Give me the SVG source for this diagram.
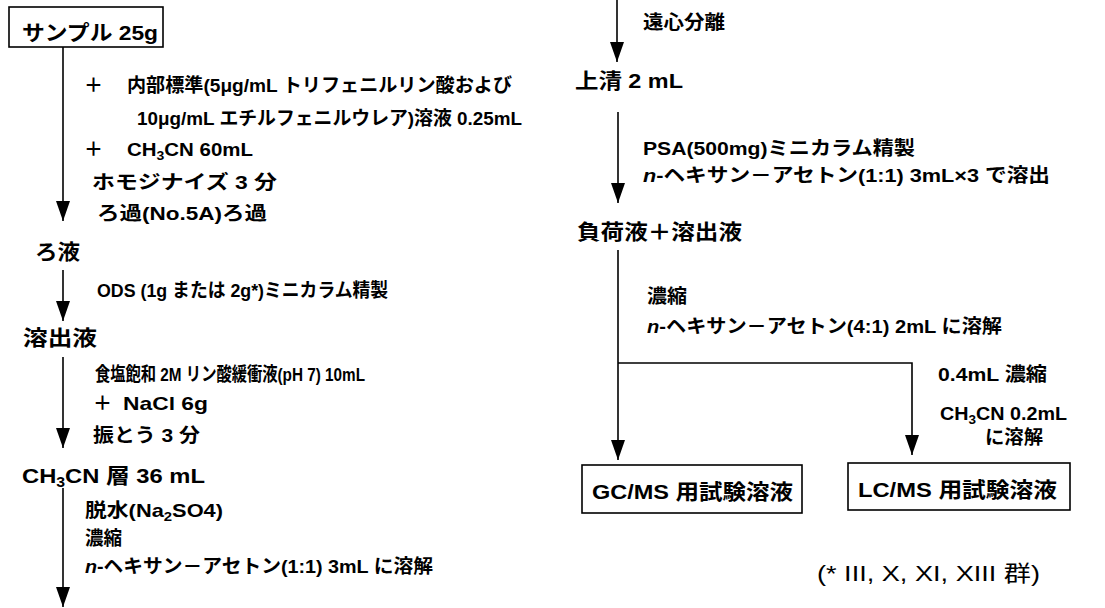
<svg xmlns="http://www.w3.org/2000/svg" width="1105" height="608" viewBox="0 0 1105 608">
<style>
text{font-family:"Liberation Sans","Noto Sans CJK JP",sans-serif;fill:#000;}
.b{font-size:19px;font-weight:bold;}
.h{font-size:21px;font-weight:bold;}
.f{font-size:22px;font-weight:normal;}
.box{fill:#fff;stroke:#000;stroke-width:1.6;}
.ln{fill:none;stroke:#000;stroke-width:1.6;}
</style>
<defs>
<marker id="ah" viewBox="0 0 20 14" refX="20" refY="7" markerWidth="20" markerHeight="14" markerUnits="userSpaceOnUse" orient="auto">
<path d="M0,0 L20,7 L0,14 z" fill="#000"/>
</marker>
</defs>
<rect width="1105" height="608" fill="#fff"/>

<g id="connectors">
<line class="ln" x1="63" y1="47" x2="63" y2="221" marker-end="url(#ah)"/>
<line class="ln" x1="63" y1="270" x2="63" y2="321" marker-end="url(#ah)"/>
<line class="ln" x1="63" y1="357" x2="63" y2="448" marker-end="url(#ah)"/>
<line class="ln" x1="63" y1="488" x2="63" y2="607" marker-end="url(#ah)"/>
<line class="ln" x1="617" y1="0" x2="617" y2="62" marker-end="url(#ah)"/>
<line class="ln" x1="618" y1="112" x2="618" y2="203" marker-end="url(#ah)"/>
<line class="ln" x1="618" y1="250" x2="618" y2="460" marker-end="url(#ah)"/>
<polyline class="ln" points="618,363 912,363 912,455" marker-end="url(#ah)"/>
</g>

<g id="n-sample">
<rect class="box" x="9" y="7" width="154" height="40"/>
<text class="h" x="22" y="40" textLength="136" lengthAdjust="spacingAndGlyphs">サンプル 25g</text>
</g>

<g id="n-step1">
<text class="b" x="84" y="92">＋</text>
<text class="b" x="127" y="92" textLength="385" lengthAdjust="spacingAndGlyphs">内部標準(5μg/mL トリフェニルリン酸および</text>
<text class="b" x="137" y="125" textLength="385" lengthAdjust="spacingAndGlyphs">10μg/mL エチルフェニルウレア)溶液  0.25mL</text>
<text class="b" x="84" y="156">＋</text>
<text class="b" x="127" y="156" textLength="126" lengthAdjust="spacingAndGlyphs">CH<tspan dy="4" font-size="13">3</tspan><tspan dy="-4">CN 60mL</tspan></text>
<text class="b" x="92" y="189" textLength="185" lengthAdjust="spacingAndGlyphs">ホモジナイズ  3 分</text>
<text class="b" x="97" y="220" textLength="170" lengthAdjust="spacingAndGlyphs">ろ過(No.5A)ろ過</text>
</g>

<g id="n-filtrate">
<text class="h" x="35" y="259" textLength="45" lengthAdjust="spacingAndGlyphs">ろ液</text>
</g>

<g id="n-step2">
<text class="b" x="97" y="297" textLength="291" lengthAdjust="spacingAndGlyphs">ODS (1g または 2g*)ミニカラム精製</text>
</g>

<g id="n-eluate">
<text class="h" x="23" y="345" textLength="74" lengthAdjust="spacingAndGlyphs">溶出液</text>
</g>

<g id="n-step3">
<text class="b" x="95" y="381" textLength="270" lengthAdjust="spacingAndGlyphs">食塩飽和 2M リン酸緩衝液(pH 7) 10mL</text>
<text class="b" x="93" y="410">＋</text>
<text class="b" x="123" y="410" textLength="85" lengthAdjust="spacingAndGlyphs">NaCl 6g</text>
<text class="b" x="93" y="442" textLength="107" lengthAdjust="spacingAndGlyphs">振とう 3 分</text>
</g>

<g id="n-layer">
<text class="h" x="22" y="483" textLength="183" lengthAdjust="spacingAndGlyphs">CH<tspan dy="4" font-size="14">3</tspan><tspan dy="-4">CN 層  36 mL</tspan></text>
</g>

<g id="n-step4">
<text class="b" x="85" y="517" textLength="138" lengthAdjust="spacingAndGlyphs">脱水(Na<tspan dy="4" font-size="13">2</tspan><tspan dy="-4">SO4)</tspan></text>
<text class="b" x="85" y="545" textLength="37" lengthAdjust="spacingAndGlyphs">濃縮</text>
<text class="b" x="85" y="573" textLength="348" lengthAdjust="spacingAndGlyphs"><tspan font-style="italic">n</tspan>-ヘキサン－アセトン(1:1) 3mL に溶解</text>
</g>

<g id="n-centrifuge">
<text class="b" x="643" y="29" textLength="82" lengthAdjust="spacingAndGlyphs">遠心分離</text>
</g>

<g id="n-supernatant">
<text class="h" x="575" y="88" textLength="108" lengthAdjust="spacingAndGlyphs">上清 2 mL</text>
</g>

<g id="n-step5">
<text class="b" x="643" y="155" textLength="272" lengthAdjust="spacingAndGlyphs">PSA(500mg)ミニカラム精製</text>
<text class="b" x="643" y="182" textLength="407" lengthAdjust="spacingAndGlyphs"><tspan font-style="italic">n</tspan>-ヘキサン－アセトン(1:1) 3mL×3 で溶出</text>
</g>

<g id="n-combined">
<text class="h" x="577" y="239" textLength="165" lengthAdjust="spacingAndGlyphs">負荷液＋溶出液</text>
</g>

<g id="n-step6">
<text class="b" x="647" y="303" textLength="40" lengthAdjust="spacingAndGlyphs">濃縮</text>
<text class="b" x="647" y="333" textLength="355" lengthAdjust="spacingAndGlyphs"><tspan font-style="italic">n</tspan>-ヘキサン－アセトン(4:1) 2mL に溶解</text>
</g>

<g id="n-step7">
<text class="b" x="938" y="381" textLength="109" lengthAdjust="spacingAndGlyphs">0.4mL 濃縮</text>
<text class="b" x="940" y="420" textLength="127" lengthAdjust="spacingAndGlyphs">CH<tspan dy="4" font-size="13">3</tspan><tspan dy="-4">CN 0.2mL</tspan></text>
<text class="b" x="985" y="444" textLength="58" lengthAdjust="spacingAndGlyphs">に溶解</text>
</g>

<g id="n-gcms">
<rect class="box" x="582" y="465" width="220" height="48"/>
<text class="h" x="592" y="499" textLength="201" lengthAdjust="spacingAndGlyphs">GC/MS 用試験溶液</text>
</g>

<g id="n-lcms">
<rect class="box" x="848" y="463" width="222" height="47"/>
<text class="h" x="858" y="497" textLength="199" lengthAdjust="spacingAndGlyphs">LC/MS 用試験溶液</text>
</g>

<g id="n-note">
<text class="f" x="817" y="581" textLength="223" lengthAdjust="spacingAndGlyphs">(* III, X, XI, XIII 群)</text>
</g>
</svg>
